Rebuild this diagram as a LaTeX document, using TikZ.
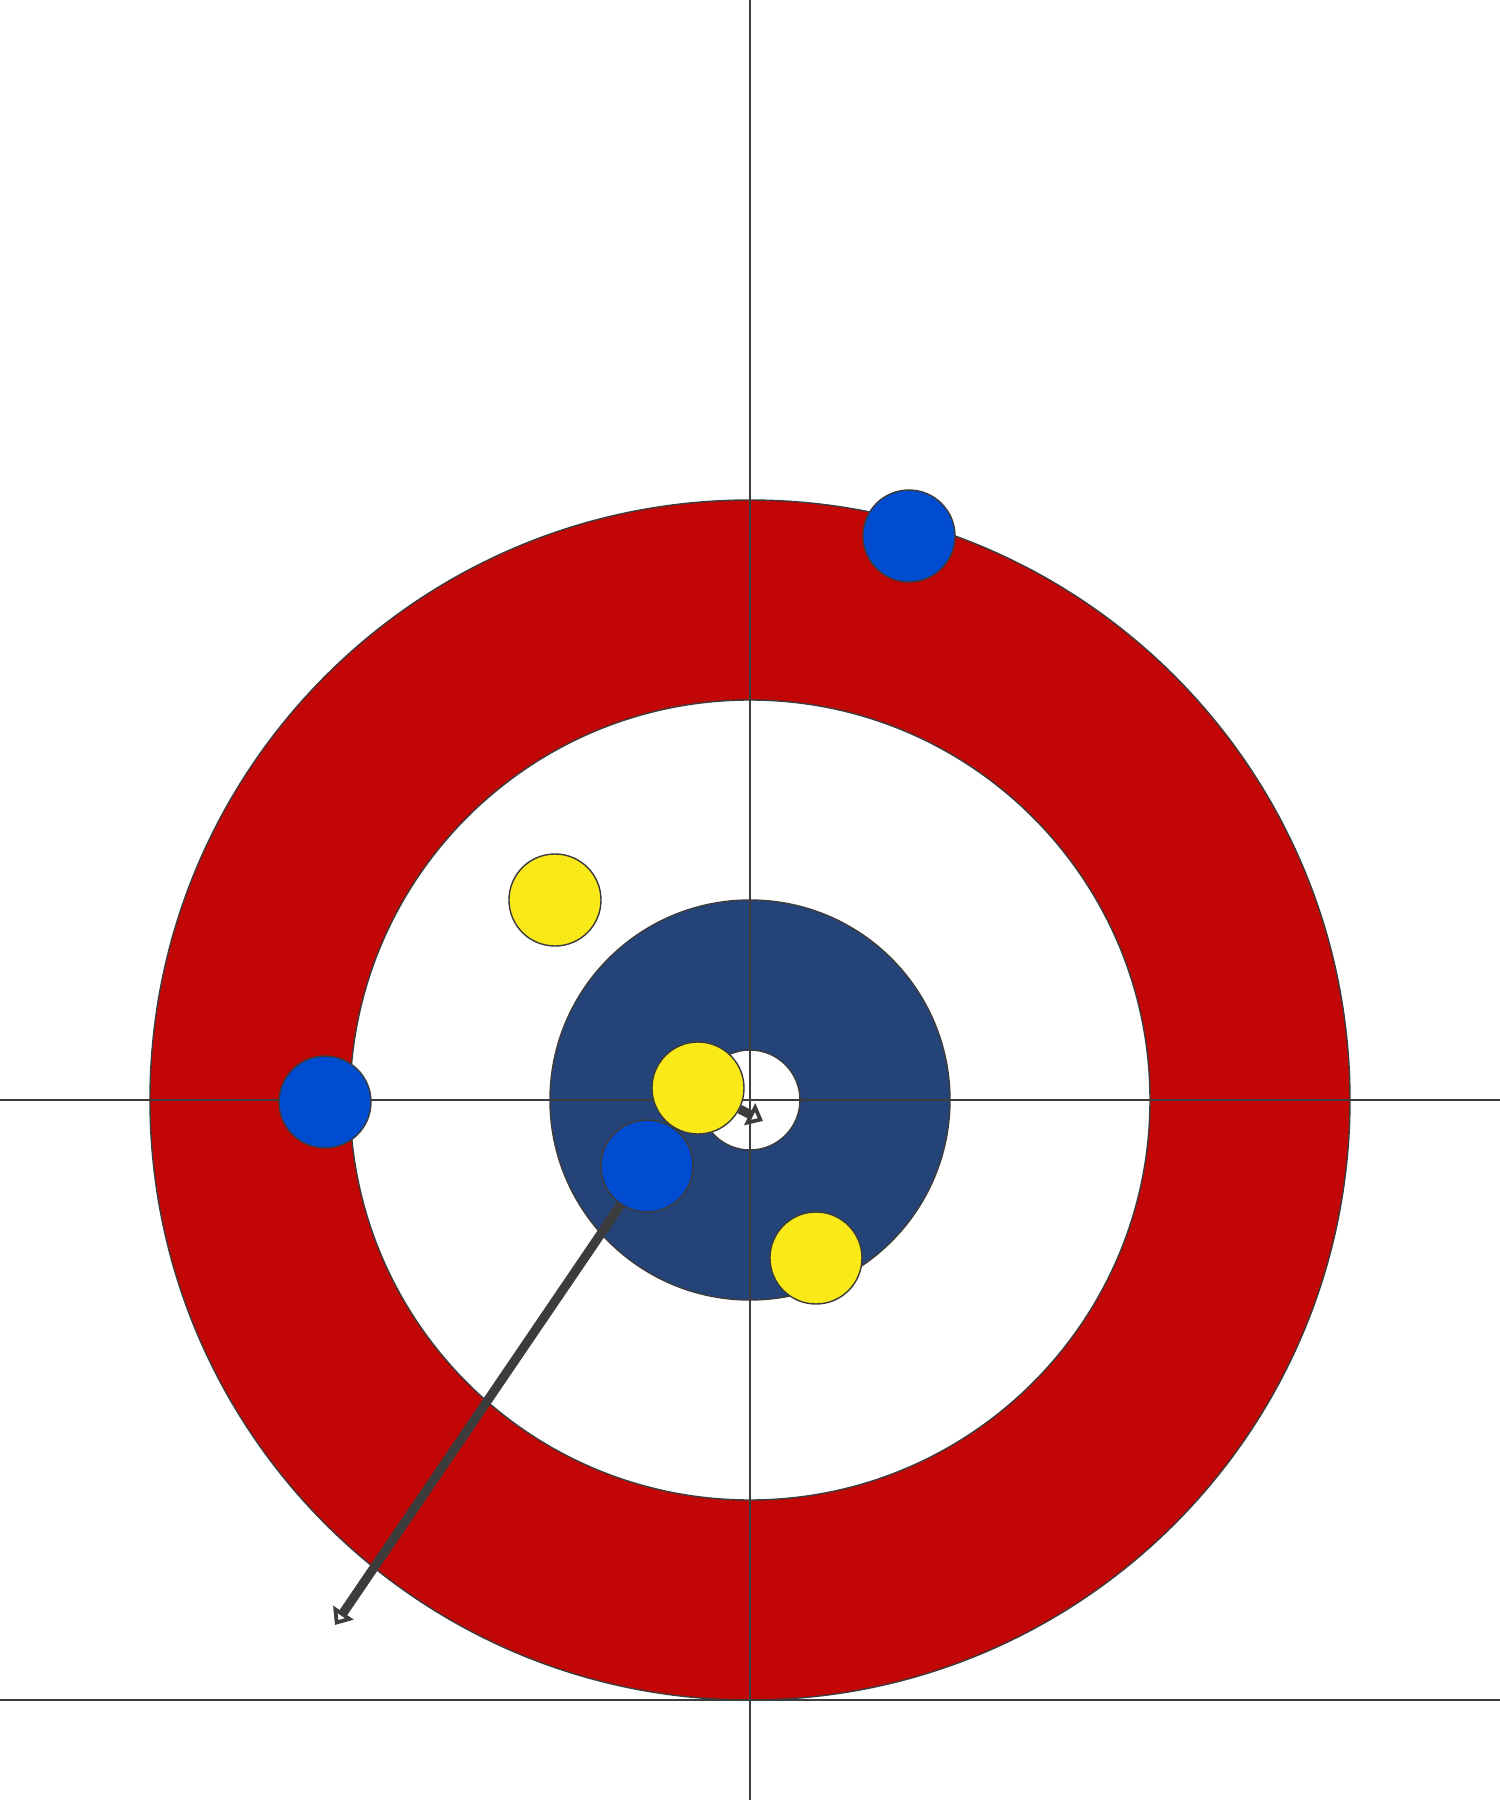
\documentclass[tikz,border=0pt]{standalone}
\usepackage{tikz}
\usetikzlibrary{arrows.meta}
\definecolor{houseRed}{RGB}{194,5,5}
\definecolor{houseNavy}{RGB}{36,67,120}
\definecolor{stoneBlue}{RGB}{0,76,208}
\definecolor{stoneYellow}{RGB}{249,233,24}
\definecolor{lineGray}{RGB}{60,60,60}

\begin{document}
\begin{tikzpicture}[thin,
	ring/.style = {draw=lineGray,
		line width=0.4pt},
	sheetline/.style = {draw=lineGray,
		line width=0.6pt},
	stone/.style = {circle,
		draw=lineGray,
		line width=0.4pt,
		minimum size = 0.92cm,
		inner sep=0pt},
	bluestone/.style = {stone, fill=stoneBlue},
	yellowstone/.style = {stone, fill=stoneYellow},
	shot/.style = {draw=lineGray,
		line width=2.6pt,
		-{Triangle[open,length=1.5mm,width=2.4mm]}}]
	
	\useasboundingbox (-7.5,-7) rectangle (7.5,11);
	
	% House
	\fill[houseRed,ring] (0,0) circle(6cm);
	\fill[white,ring] (0,0) circle(4cm);
	\fill[houseNavy,ring] (0,0) circle(2cm);
	\fill[white,ring] (0,0) circle(0.5cm);
	
	% Centre line, tee line and back line
	\draw[sheetline] (0,-7) -- (0,11);
	\draw[sheetline] (-7.5,0) -- (7.5,0);
	\draw[sheetline] (-7.5,-6) -- (7.5,-6);
	
	% Blue stones
	\node[bluestone] (B1) at (1.59,5.64) {};
	\node[bluestone] (B2) at (-4.25,-0.02) {};
	\node[bluestone] (B3) at (-1.03,-0.66) {};
	
	% Yellow stones
	\node[yellowstone] (Y1) at (-1.95,2.0) {};
	\node[yellowstone] (Y2) at (-0.52,0.12) {};
	\node[yellowstone] (Y3) at (0.66,-1.58) {};
	
	% Shots
	\coordinate (vB3) at (-4.15,-5.25);
	\coordinate (vY2) at (0.13,-0.21);
	\draw[shot] (B3) -- (vB3);
	\draw[shot] (Y2) -- (vY2);
	
\end{tikzpicture}
\end{document}
